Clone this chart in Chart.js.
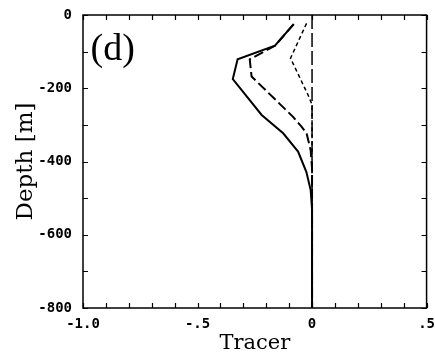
<!DOCTYPE html>
<html>
<head>
<meta charset="utf-8">
<script src="https://cdn.jsdelivr.net/npm/chart.js@4/dist/chart.umd.min.js"></script>
<style>
  html, body { margin: 0; padding: 0; background: #fff; }
  #wrap { width: 435px; height: 356px; }
</style>
</head>
<body>
<div id="wrap"><canvas id="tracer-chart"></canvas></div>
<script>
// profiles (depth in m, tracer value)
let solidDepth = [-25, -84, -121, -175, -273, -323, -373, -428, -478, -530, -800];
let solidTracer = [-0.08, -0.162, -0.325, -0.346, -0.22, -0.126, -0.061, -0.025, -0.006, 0, 0];
let longDashDepth = [-25, -84, -121, -168, -278, -305, -323, -369, -420, -800];
let longDashTracer = [-0.08, -0.162, -0.272, -0.264, -0.083, -0.046, -0.024, -0.006, 0, 0];
let shortDashDepth = [-23, -118, -219, -245, -800];
let shortDashTracer = [-0.024, -0.094, -0.017, 0, 0];
let zeroDepth = [0, -800];
let zeroTracer = [0, 0];

let xTickValues = [-1, -0.5, 0, 0.5];
let xTickLabels = ["-1.0", "-.5", "0", ".5"];
let yTickValues = [0, -200, -400, -600, -800];
let yTickLabels = ["0", "-200", "-400", "-600", "-800"];
let panelLabel = "(d)";

function toPoints(xs, ys) {
  return xs.map((x, i) => ({ x: x, y: ys[i] }));
}
function lookupLabel(value, values, labels) {
  let i = values.findIndex((v) => Math.abs(v - value) < 1e-6);
  return i < 0 ? "" : labels[i];
}

//frame, inward ticks and panel letter
const framePlugin = {
  id: "frame",
  afterDraw(chart) {
    const ctx = chart.ctx;
    const a = chart.chartArea;
    const xs = chart.scales.x;
    const ys = chart.scales.y;
    ctx.save();
    ctx.strokeStyle = "#000";
    ctx.lineWidth = 1.2;
    xs.ticks.forEach((t) => {
      let px = Math.round(xs.getPixelForValue(t.value)) + 0.5;
      ctx.beginPath();
      ctx.moveTo(px, a.bottom);
      ctx.lineTo(px, a.bottom - 5);
      ctx.moveTo(px, a.top);
      ctx.lineTo(px, a.top + 5);
      ctx.stroke();
    });
    ys.ticks.forEach((t) => {
      let py = Math.round(ys.getPixelForValue(t.value)) + 0.5;
      ctx.beginPath();
      ctx.moveTo(a.left, py);
      ctx.lineTo(a.left + 5, py);
      ctx.moveTo(a.right, py);
      ctx.lineTo(a.right - 5, py);
      ctx.stroke();
    });
    ctx.lineWidth = 1.5;
    ctx.strokeRect(a.left, a.top, a.right - a.left, a.bottom - a.top);
    ctx.fillStyle = "#000";
    ctx.font = "38px 'Liberation Serif'";
    ctx.textAlign = "center";
    ctx.textBaseline = "middle";
    ctx.fillText(panelLabel, xs.getPixelForValue(-0.87), ys.getPixelForValue(-95));
    ctx.restore();
  },
};

const ctx = document.getElementById("tracer-chart").getContext("2d");
const tracerChart = new Chart(ctx, {
  type: "scatter",
  data: {
    datasets: [
      {
        label: "zero",
        data: toPoints(zeroTracer, zeroDepth),
        borderColor: "#000",
        borderWidth: 1.5,
        borderDash: [14, 4],
      },
      {
        label: "short dash",
        data: toPoints(shortDashTracer, shortDashDepth),
        borderColor: "#000",
        borderWidth: 1.5,
        borderDash: [4, 3],
      },
      {
        label: "long dash",
        data: toPoints(longDashTracer, longDashDepth),
        borderColor: "#000",
        borderWidth: 2,
        borderDash: [10, 4],
      },
      {
        label: "solid",
        data: toPoints(solidTracer, solidDepth),
        borderColor: "#000",
        borderWidth: 2,
      },
    ],
  },
  options: {
    responsive: true,
    maintainAspectRatio: false,
    animation: false,
    datasets: {
      scatter: { showLine: true, pointRadius: 0, fill: false, tension: 0 },
    },
    layout: { padding: { left: 0, right: 8, top: 15, bottom: 0 } },
    plugins: {
      legend: { display: false },
      tooltip: { enabled: false },
    },
    scales: {
      x: {
        type: "linear",
        min: -1,
        max: 0.5,
        grid: { display: false },
        border: { display: false },
        ticks: {
          stepSize: 0.1,
          autoSkip: false,
          maxRotation: 0,
          padding: 0,
          color: "#000",
          font: { family: "'DejaVu Sans Mono'", size: 14, weight: "bold" },
          callback: (v) => lookupLabel(v, xTickValues, xTickLabels),
        },
        title: {
          display: true,
          text: "Tracer",
          color: "#000",
          font: { family: "'DejaVu Serif'", size: 21 },
          padding: { top: 0, bottom: 0 },
        },
        afterFit: (scale) => {
          scale.height = 48;
        },
      },
      y: {
        type: "linear",
        min: -800,
        max: 0,
        grid: { display: false },
        border: { display: false },
        ticks: {
          stepSize: 100,
          autoSkip: false,
          padding: 3,
          color: "#000",
          font: { family: "'DejaVu Sans Mono'", size: 14, weight: "bold" },
          callback: (v) => lookupLabel(v, yTickValues, yTickLabels),
        },
        title: {
          display: true,
          text: "Depth [m]",
          color: "#000",
          font: { family: "'DejaVu Serif'", size: 23 },
          padding: { top: 12, bottom: 0 },
        },
        afterFit: (scale) => {
          scale.width = 83;
        },
      },
    },
  },
  plugins: [framePlugin],
});
</script>
</body>
</html>
